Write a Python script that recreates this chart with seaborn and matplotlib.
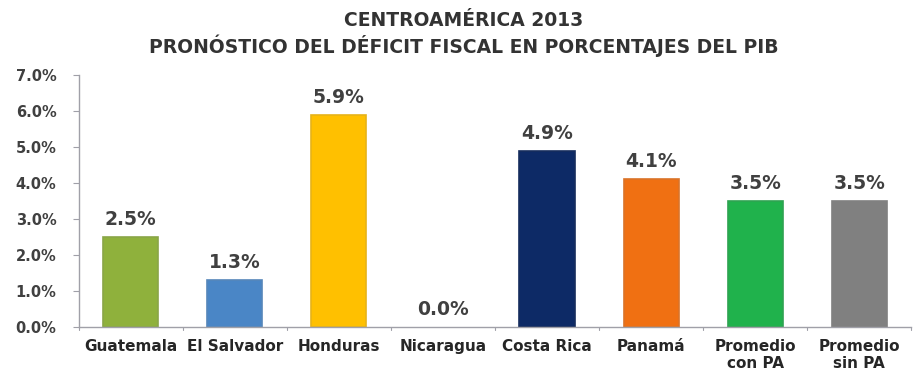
import matplotlib
matplotlib.use("Agg")
import matplotlib.pyplot as plt
import seaborn as sns
import pandas as pd
from matplotlib.ticker import FuncFormatter, FixedLocator

# Data
paises = ["Guatemala", "El Salvador", "Honduras", "Nicaragua", "Costa Rica",
          "Panamá", "Promedio\ncon PA", "Promedio\nsin PA"]
deficit = [2.5, 1.3, 5.9, 0.0, 4.9, 4.1, 3.5, 3.5]
colores = ["#8fb13c", "#4a86c6", "#ffc000", "#7f7f7f", "#0d2a66",
           "#f07012", "#20b24c", "#808080"]
titulo_1 = "CENTROAMÉRICA 2013"
titulo_2 = "PRONÓSTICO DEL DÉFICIT FISCAL EN PORCENTAJES DEL PIB"

df = pd.DataFrame({"pais": paises, "deficit": deficit})

sns.set_style("white")
plt.rcParams["font.family"] = ["DejaVu Sans"]

fig = plt.figure(figsize=(9.15, 3.77), dpi=100)
ax = fig.add_axes([0.086, 0.133, 0.910, 0.668])

sns.barplot(data=df, x="pais", y="deficit", hue="pais", palette=colores,
            legend=False, width=0.53, ax=ax, saturation=1)

for patch, c, v in zip(ax.patches, colores, deficit):
    if v == 0:
        patch.set_edgecolor("none")
    else:
        patch.set_edgecolor(sns.desaturate(c, 0.8))
        patch.set_linewidth(1.2)

ax.set_ylim(0, 7.0)
ax.set_xlim(-0.5, len(paises) - 0.5)
ax.yaxis.set_major_locator(FixedLocator([i for i in range(8)]))
ax.yaxis.set_major_formatter(FuncFormatter(lambda v, p: f"{v:.1f}%"))
ax.set_xlabel("")
ax.set_ylabel("")

for lbl in ax.get_yticklabels():
    lbl.set_fontweight("bold")
    lbl.set_fontsize(10.5)
    lbl.set_color("#404040")
ax.tick_params(axis="y", length=4, width=0.8, color="#a0a0a8", pad=12, left=True)

ax.set_xticks(range(len(paises)))
ax.set_xticklabels(paises, fontsize=11, fontweight="bold", color="#262626",
                   linespacing=1.15)
ax.tick_params(axis="x", length=0, pad=9)
# separators between categories
for b in [i - 0.5 for i in range(len(paises) + 1)]:
    ax.plot([b, b], [0, -0.1], color="#a0a0a8", lw=0.8, clip_on=False)

for s in ["top", "right"]:
    ax.spines[s].set_visible(False)
for s in ["left", "bottom"]:
    ax.spines[s].set_color("#a0a0a8")
    ax.spines[s].set_linewidth(1.0)

for i, v in enumerate(deficit):
    ax.text(i, v + 0.33, f"{v:.1f}%", ha="center", va="baseline",
            fontsize=13.5, fontweight="bold", color="#404040")

fig.text(0.507, 1 - 20 / 377, titulo_1, ha="center", va="center", fontsize=13.5,
         fontweight="bold", color="#333333")
fig.text(0.507, 1 - 46 / 377, titulo_2, ha="center", va="center", fontsize=13.5,
         fontweight="bold", color="#333333")

fig.savefig("out.png", dpi=100, facecolor="white")
